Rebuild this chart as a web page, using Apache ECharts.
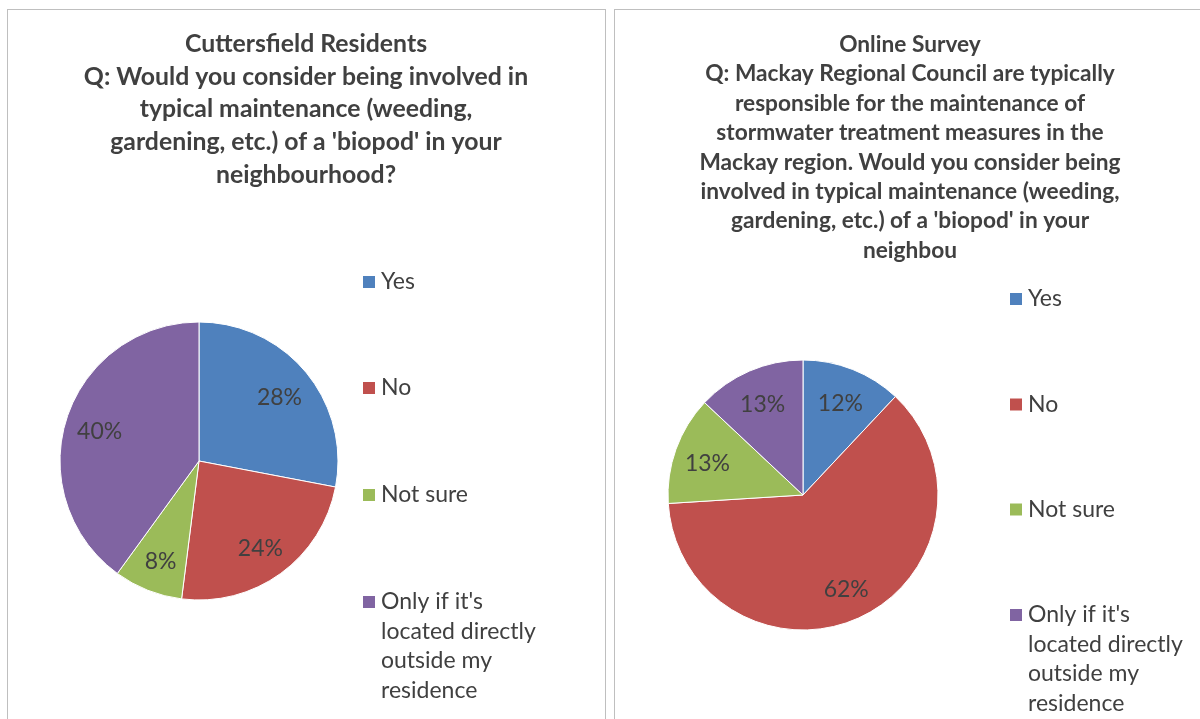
<!DOCTYPE html>
<html>
<head>
<meta charset="utf-8">
<script src="https://cdn.jsdelivr.net/npm/echarts@6/dist/echarts.min.js"></script>
<style>
  html, body { margin: 0; padding: 0; background: #fff; overflow: hidden; width: 1200px; height: 719px; }
  .panel { position: absolute; top: 9px; width: 599px; height: 730px; box-sizing: border-box; border: 1px solid #bfbfbf; background: #fff; }
  #left { left: 7px; }
  #right { left: 614px; }
</style>
</head>
<body>
<div id="left" class="panel"></div>
<div id="right" class="panel"></div>
<script>
// Answer categories shared by both surveys
const categories = ['Yes', 'No', 'Not sure', "Only if it's located directly outside my residence"];

// Cuttersfield Residents (percent of responses)
const residentsValues = [28, 24, 8, 40];
// Online Survey (percent of responses)
const onlineValues = [12, 62, 13, 13];

const residentsTitle = "Cuttersfield Residents\nQ: Would you consider being involved in\ntypical maintenance (weeding,\ngardening, etc.) of a 'biopod' in your\nneighbourhood?";
const onlineTitle = "Online Survey\nQ: Mackay Regional Council are typically\nresponsible for the maintenance of\nstormwater treatment measures in the\nMackay region. Would you consider being\ninvolved in typical maintenance (weeding,\ngardening, etc.) of a 'biopod' in your\nneighbou";

const colors = ['#4F81BD', '#C0504D', '#9BBB59', '#8064A2'];
const FONT = 'Lato';
const TEXT = '#404040';
const LEGEND_LINE = 29.5;

// Wrapped legend label; the long answer breaks over four lines
const wrapped = {
  "Only if it's located directly outside my residence": ["Only if it's", 'located directly', 'outside my', 'residence']
};

// Legend text is centred on its swatch, so empty lines are put above a
// wrapped label to keep the swatch level with its first line
function legendText(name) {
  const lines = wrapped[name];
  if (!lines) return name;
  const pad = new Array(lines.length - 1).fill('');
  return pad.concat(lines).join('\n');
}
function legendLines(name) {
  const lines = wrapped[name];
  return lines ? lines.length * 2 - 1 : 1;
}

// Shift each slice label from the half-radius spot out to a given share of the radius
function labelOffsets(values, radius, ratio, dy) {
  const total = values.reduce((a, b) => a + b, 0);
  let acc = 0;
  const d = radius * (ratio - 0.5);
  return values.map(v => {
    const mid = (acc + v / 2) / total * Math.PI * 2;
    acc += v;
    return [d * Math.sin(mid), -d * Math.cos(mid) + dy];
  });
}

function buildOption(cfg) {
  const offs = labelOffsets(cfg.values, cfg.radius, 0.73, 3);
  const legends = categories.map((name, i) => ({
    orient: 'vertical',
    left: cfg.legendLeft,
    top: cfg.legendCenters[i] - legendLines(name) * LEGEND_LINE / 2,
    padding: 0,
    itemWidth: 14,
    itemHeight: 14,
    icon: 'rect',
    selectedMode: false,
    formatter: legendText,
    data: [name],
    textStyle: { fontFamily: FONT, fontSize: cfg.legendSize, color: TEXT, lineHeight: LEGEND_LINE }
  }));
  return {
    animation: false,
    color: colors,
    title: {
      text: cfg.title,
      left: cfg.titleX,
      textAlign: 'center',
      top: cfg.titleTop,
      padding: 0,
      textStyle: { fontFamily: FONT, fontWeight: 'bold', fontSize: cfg.titleSize, color: TEXT, lineHeight: cfg.titleLine }
    },
    legend: legends,
    series: [{
      type: 'pie',
      center: cfg.center,
      radius: cfg.radius,
      startAngle: 90,
      clockwise: true,
      avoidLabelOverlap: false,
      itemStyle: { borderColor: '#ffffff', borderWidth: 1 },
      label: {
        position: 'inside',
        formatter: '{c}%',
        fontFamily: FONT,
        fontSize: cfg.labelSize,
        color: TEXT
      },
      labelLine: { show: false },
      emphasis: { disabled: true },
      data: categories.map((name, i) => ({
        name: name,
        value: cfg.values[i],
        label: { offset: offs[i] }
      }))
    }]
  };
}

const leftChart = echarts.init(document.getElementById('left'));
leftChart.setOption(buildOption({
  title: residentsTitle,
  titleX: 298,
  titleTop: 18,
  titleSize: 24.8,
  titleLine: 32.6,
  values: residentsValues,
  center: [191, 451],
  radius: 139,
  labelSize: 23,
  legendLeft: 353,
  legendSize: 23,
  legendCenters: [272, 378, 485, 592]
}));

const rightChart = echarts.init(document.getElementById('right'));
rightChart.setOption(buildOption({
  title: onlineTitle,
  titleX: 295,
  titleTop: 20,
  titleSize: 22.7,
  titleLine: 29.4,
  values: onlineValues,
  center: [188, 485],
  radius: 135,
  labelSize: 23,
  legendLeft: 393,
  legendSize: 23,
  legendCenters: [289, 394.5, 499.5, 605]
}));
</script>
</body>
</html>
